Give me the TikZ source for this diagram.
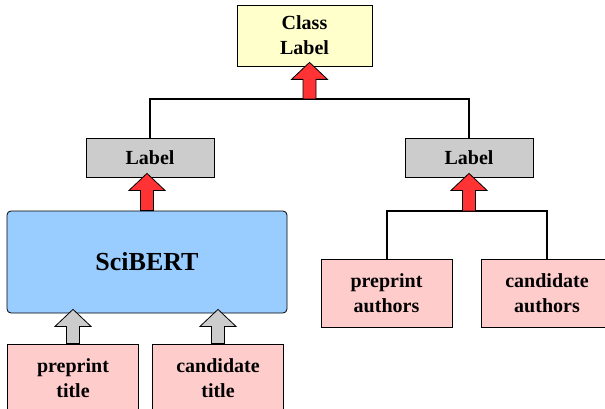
\documentclass[tikz,border=0pt]{standalone}
\usepackage{fontspec}
\setmainfont{Liberation Serif}
\usetikzlibrary{calc}

% fat up arrow: style, tail, tip (x is taken from the tail)
\newcommand{\blockarrow}[3]{%
  \draw[#1] let \p1=(#2), \p2=(#3) in
    (\x1,\y2+4pt) -- (\x1+18pt,\y2-13pt) -- (\x1+6.5pt,\y2-13pt) -- (\x1+6.5pt,\y1)
    -- (\x1-6.5pt,\y1) -- (\x1-6.5pt,\y2-13pt) -- (\x1-18pt,\y2-13pt) -- cycle;}

\definecolor{boxyellow}{HTML}{FFFFCC}
\definecolor{boxgray}{HTML}{CCCCCC}
\definecolor{boxblue}{HTML}{99CCFF}
\definecolor{boxpink}{HTML}{FFCCCC}
\definecolor{arrowred}{HTML}{FF3333}

\begin{document}
\begin{tikzpicture}[x=1pt,y=-1pt,
        box/.style={draw, line width=.8pt, inner sep=0pt, align=center,
                    font=\fontsize{20}{25}\selectfont\bfseries},
        class box/.style={box, fill=boxyellow, minimum width=135pt, minimum height=61pt},
        label box/.style={box, fill=boxgray, minimum width=128pt, minimum height=39pt},
        input box/.style={box, fill=boxpink, minimum width=131pt, minimum height=68pt},
        model box/.style={box, fill=boxblue, rounded corners=4pt, minimum width=280pt,
                          minimum height=102pt, font=\fontsize{26}{30}\selectfont\bfseries},
        wire/.style={line width=2pt},
        red arrow/.style={draw, line width=.8pt, fill=arrowred, line join=miter},
        gray arrow/.style={draw, line width=.8pt, fill=boxgray, line join=miter}]
        \path[use as bounding box, clip] (0,0) rectangle (605,409);

        % top
        \node[class box] (cls)  at (304.5, 35.5) {Class\\Label};
        \node[label box] (lab1) at (150,157.5)   {Label};
        \node[label box] (lab2) at (469,157.5)   {Label};
        \coordinate      (top)  at (309.5,99);

        % left branch
        \node[model box] (sci) at (147,262)   {SciBERT};
        \node[input box] (pt)  at (73,378)    {preprint\\title};
        \node[input box] (ct)  at (218,378)   {candidate\\title};

        % right branch
        \node[input box] (pa) at (386.5,293) {preprint\\authors};
        \node[input box] (ca) at (547,293)   {candidate\\authors};
        \coordinate      (jn) at (469,211);

        \draw[wire] (lab1.north) |- (top) -| (lab2.north);
        \draw[wire] (pa.north)   |- (jn)  -| (ca.north);

        \blockarrow{red arrow}{top}{cls.south}
        \blockarrow{red arrow}{sci.north}{lab1.south}
        \blockarrow{red arrow}{jn}{lab2.south}
        \blockarrow{gray arrow}{pt.north}{sci.south}
        \blockarrow{gray arrow}{ct.north}{sci.south}
      \end{tikzpicture}
\end{document}
